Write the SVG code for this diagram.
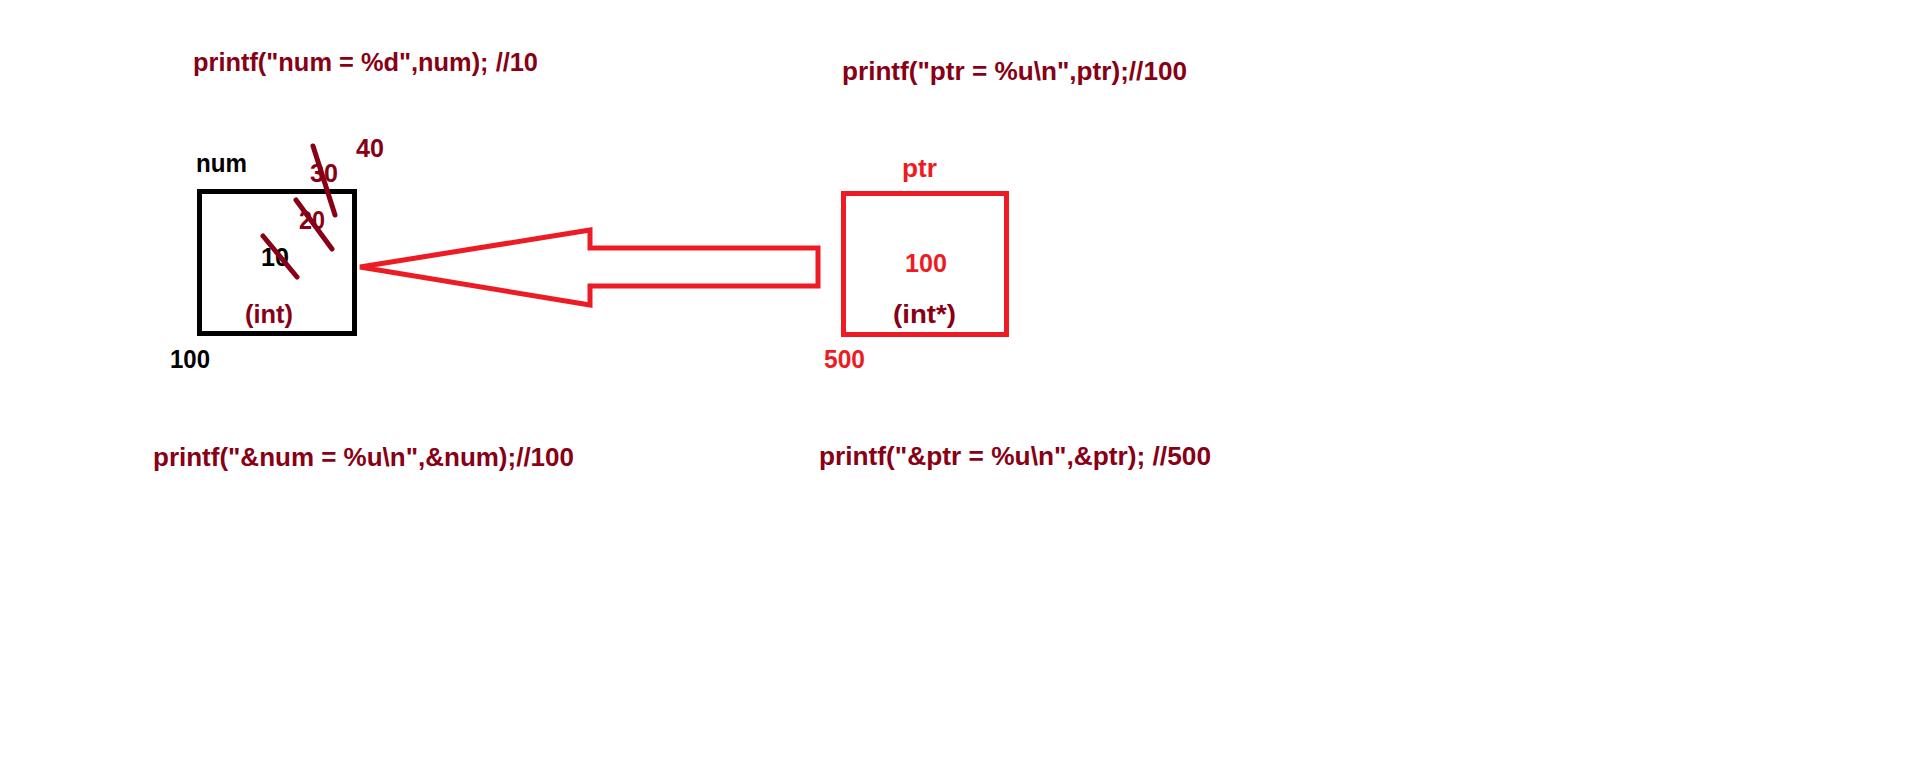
<svg xmlns="http://www.w3.org/2000/svg" width="1910" height="772" viewBox="0 0 1910 772">
<style>
text{font-family:"Liberation Sans",Arial,sans-serif;font-weight:bold;font-size:25px}
.dr{fill:#880015}
.rd{fill:#ED1C24}
.bk{fill:#000}
.strike{stroke:#880015;stroke-width:5;stroke-linecap:round}
</style>
<rect width="1910" height="772" fill="#fff"/>
<g id="code-num"><text class="dr" x="193" y="71" textLength="345" lengthAdjust="spacingAndGlyphs">printf("num = %d",num); //10</text></g>
<g id="code-ptr"><text class="dr" x="842" y="80" textLength="345" lengthAdjust="spacingAndGlyphs">printf("ptr = %u\n",ptr);//100</text></g>
<g id="code-addr-num"><text class="dr" x="153" y="466" textLength="421" lengthAdjust="spacingAndGlyphs">printf("&amp;num = %u\n",&amp;num);//100</text></g>
<g id="code-addr-ptr"><text class="dr" x="819" y="465" textLength="392" lengthAdjust="spacingAndGlyphs">printf("&amp;ptr = %u\n",&amp;ptr); //500</text></g>
<g id="num">
<text class="bk" x="196" y="172" textLength="51" lengthAdjust="spacingAndGlyphs">num</text>
<rect x="199.5" y="191.5" width="155" height="142" fill="none" stroke="#000" stroke-width="5"/>
<text class="bk" x="261" y="266" textLength="28" lengthAdjust="spacingAndGlyphs">10</text>
<line class="strike" x1="263" y1="236" x2="297" y2="277"/>
<text class="dr" x="299" y="229" textLength="26" lengthAdjust="spacingAndGlyphs">20</text>
<line class="strike" x1="296" y1="200" x2="332" y2="249"/>
<text class="dr" x="310" y="182" textLength="28" lengthAdjust="spacingAndGlyphs">30</text>
<line class="strike" x1="313" y1="146" x2="335" y2="215"/>
<text class="dr" x="356" y="157" textLength="28" lengthAdjust="spacingAndGlyphs">40</text>
<text class="dr" x="245" y="323" textLength="48" lengthAdjust="spacingAndGlyphs">(int)</text>
<text class="bk" x="170" y="368" textLength="40" lengthAdjust="spacingAndGlyphs">100</text>
</g>
<g id="ptr">
<text class="rd" x="902" y="177" textLength="35" lengthAdjust="spacingAndGlyphs">ptr</text>
<rect x="843.5" y="193.5" width="163" height="141" fill="none" stroke="#ED1C24" stroke-width="5"/>
<text class="rd" x="905" y="272" textLength="42" lengthAdjust="spacingAndGlyphs">100</text>
<text class="dr" x="893" y="323" textLength="63" lengthAdjust="spacingAndGlyphs">(int*)</text>
<text class="rd" x="824" y="368" textLength="41" lengthAdjust="spacingAndGlyphs">500</text>
</g>
<g id="connectors">
<polygon points="360,267 590,230 590,248 818,248 818,286 590,286 590,305" fill="none" stroke="#ED1C24" stroke-width="5" stroke-linejoin="miter"/>
</g>
</svg>
